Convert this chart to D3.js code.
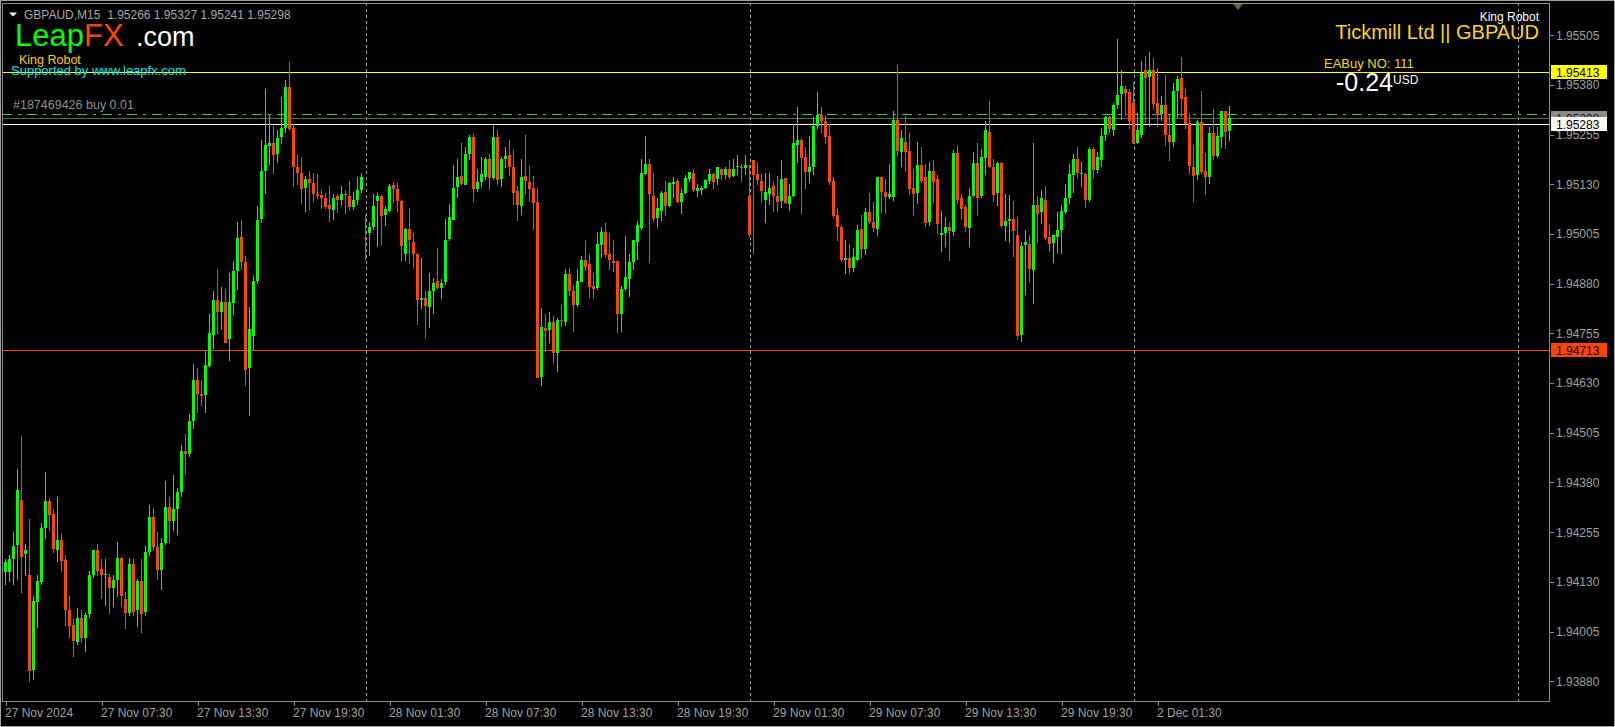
<!DOCTYPE html>
<html><head><meta charset="utf-8">
<script src="https://cdn.jsdelivr.net/npm/d3@7"></script>
<style>html,body{margin:0;padding:0;background:#000;overflow:hidden}</style>
</head><body>
<svg id="c" width="1615" height="727"></svg>
<script>
const symbol = "GBPAUD", period = "M15";
const opens = [
1.94155,1.94155,1.94188,1.94221,1.94337,1.94198,1.94148,1.93909,1.94078,1.94131,
1.94266,1.94334,1.94300,1.94211,1.94235,1.94185,1.94058,1.94021,1.93979,1.94040,
1.93990,1.94047,1.94146,1.94209,1.94162,1.94146,1.94141,1.94115,1.94134,1.94190,
1.94087,1.94052,1.94175,1.94058,1.94131,1.94052,1.94204,1.94292,1.94217,1.94159,
1.94228,1.94318,1.94282,1.94313,1.94355,1.94459,1.94451,1.94534,1.94637,1.94602,
1.94600,1.94675,1.94751,1.94840,1.94809,1.94835,1.94743,1.94833,1.94913,1.94998,
1.94936,1.94668,1.94749,1.94887,1.95041,1.95163,1.95228,1.95235,1.95208,1.95248,
1.95271,1.95374,1.95273,1.95175,1.95160,1.95120,1.95143,1.95134,1.95106,1.95104,
1.95096,1.95077,1.95067,1.95100,1.95089,1.95105,1.95100,1.95073,1.95091,1.95116,
1.94995,1.95009,1.95021,1.95089,1.95102,1.95052,1.95064,1.95129,1.95119,1.95089,
1.94955,1.95017,1.94986,1.94954,1.94838,1.94843,1.94823,1.94863,1.94886,1.94869,
1.94886,1.94991,1.95042,1.95122,1.95150,1.95130,1.95206,1.95250,1.95120,1.95135,
1.95150,1.95195,1.95146,1.95250,1.95145,1.95193,1.95203,1.95175,1.95114,1.95076,
1.95150,1.95137,1.95122,1.95087,1.94647,1.94770,1.94762,1.94783,1.94704,1.94788,
1.94783,1.94904,1.94863,1.94827,1.94886,1.94941,1.94929,1.94875,1.94868,1.94979,
1.95011,1.94954,1.94938,1.94938,1.94804,1.94868,1.94894,1.94936,1.94984,1.95022,
1.95157,1.95181,1.95102,1.95044,1.95064,1.95112,1.95077,1.95133,1.95139,1.95087,
1.95108,1.95144,1.95160,1.95114,1.95118,1.95120,1.95140,1.95157,1.95143,1.95170,
1.95155,1.95170,1.95152,1.95174,1.95175,1.95173,1.95100,1.95191,1.95156,1.95139,
1.95092,1.95108,1.95125,1.95102,1.95087,1.95145,1.95083,1.95102,1.95231,1.95243,
1.95200,1.95162,1.95175,1.95276,1.95304,1.95289,1.95253,1.95139,1.95054,1.95023,
1.94941,1.94946,1.94920,1.94941,1.95018,1.94968,1.95061,1.95036,1.95016,1.95148,
1.95112,1.95100,1.95100,1.95291,1.95212,1.95237,1.95215,1.95122,1.95109,1.95180,
1.95148,1.95036,1.95164,1.95143,1.95005,1.95009,1.95024,1.95011,1.95210,1.95097,
1.95072,1.95022,1.95102,1.95185,1.95100,1.95196,1.95262,1.95175,1.95109,1.95185,
1.95027,1.95039,1.95043,1.95002,1.94751,1.94976,1.94981,1.94916,1.95079,1.95059,
1.95092,1.94998,1.94981,1.94999,1.95015,1.95062,1.95096,1.95153,1.95193,1.95158,
1.95157,1.95091,1.95219,1.95165,1.95193,1.95253,1.95299,1.95268,1.95330,1.95356,
1.95371,1.95362,1.95336,1.95233,1.95254,1.95419,1.95401,1.95419,1.95336,1.95309,
1.95330,1.95254,1.95237,1.95365,1.95399,1.95350,1.95285,1.95175,1.95153,1.95286,
1.95164,1.95149,1.95260,1.95203,1.95249,1.95314,1.95266];
const highs = [
1.94188,1.94198,1.94256,1.94415,1.94498,1.94225,1.94287,1.94094,1.94146,1.94277,
1.94407,1.94341,1.94313,1.94344,1.94251,1.94198,1.94094,1.94037,1.94063,1.94058,
1.94052,1.94157,1.94211,1.94225,1.94188,1.94188,1.94151,1.94146,1.94230,1.94193,
1.94105,1.94190,1.94188,1.94138,1.94188,1.94221,1.94324,1.94315,1.94256,1.94240,
1.94383,1.94344,1.94399,1.94365,1.94475,1.94501,1.94553,1.94678,1.94668,1.94637,
1.94710,1.94803,1.94861,1.94918,1.94873,1.94868,1.94906,1.94937,1.95036,1.95041,
1.94950,1.94822,1.94899,1.95075,1.95242,1.95371,1.95304,1.95276,1.95268,1.95351,
1.95394,1.95437,1.95283,1.95205,1.95198,1.95150,1.95164,1.95160,1.95157,1.95116,
1.95109,1.95127,1.95106,1.95106,1.95125,1.95116,1.95139,1.95112,1.95148,1.95160,
1.95054,1.95035,1.95106,1.95108,1.95104,1.95075,1.95132,1.95137,1.95134,1.95090,
1.95020,1.95070,1.95007,1.94954,1.94946,1.94863,1.94908,1.94895,1.94971,1.94892,
1.95044,1.95082,1.95180,1.95193,1.95233,1.95223,1.95255,1.95257,1.95168,1.95198,
1.95200,1.95207,1.95280,1.95266,1.95200,1.95223,1.95243,1.95218,1.95125,1.95195,
1.95255,1.95176,1.95150,1.95120,1.94818,1.94803,1.94810,1.94800,1.94793,1.94827,
1.94916,1.94920,1.94877,1.94916,1.94950,1.94989,1.94954,1.94908,1.95010,1.95023,
1.95032,1.95009,1.94991,1.94938,1.94874,1.94999,1.94956,1.94991,1.95039,1.95193,
1.95253,1.95195,1.95160,1.95095,1.95114,1.95139,1.95136,1.95148,1.95143,1.95122,
1.95153,1.95162,1.95169,1.95132,1.95127,1.95143,1.95168,1.95160,1.95173,1.95170,
1.95173,1.95191,1.95195,1.95203,1.95181,1.95205,1.95179,1.95191,1.95187,1.95157,
1.95160,1.95160,1.95137,1.95150,1.95191,1.95145,1.95130,1.95283,1.95326,1.95248,
1.95225,1.95253,1.95299,1.95362,1.95326,1.95303,1.95283,1.95148,1.95070,1.95029,
1.94991,1.94979,1.94970,1.95029,1.95054,1.95070,1.95109,1.95087,1.95148,1.95148,
1.95143,1.95182,1.95315,1.95431,1.95268,1.95303,1.95260,1.95170,1.95237,1.95223,
1.95182,1.95187,1.95191,1.95153,1.95064,1.95049,1.95032,1.95216,1.95230,1.95107,
1.95079,1.95122,1.95212,1.95233,1.95219,1.95289,1.95341,1.95193,1.95187,1.95187,
1.95106,1.95104,1.95089,1.95049,1.94984,1.95015,1.95002,1.95235,1.95100,1.95117,
1.95125,1.95028,1.95004,1.95061,1.95079,1.95132,1.95181,1.95207,1.95225,1.95187,
1.95160,1.95223,1.95223,1.95212,1.95271,1.95303,1.95303,1.95336,1.95497,1.95419,
1.95378,1.95369,1.95389,1.95309,1.95440,1.95454,1.95464,1.95449,1.95424,1.95353,
1.95406,1.95304,1.95384,1.95404,1.95451,1.95369,1.95309,1.95228,1.95293,1.95366,
1.95210,1.95275,1.95319,1.95275,1.95316,1.95316,1.95327];
const lows = [
1.94125,1.94131,1.94125,1.94136,1.94105,1.94146,1.93880,1.93885,1.94016,1.94125,
1.94240,1.94261,1.94204,1.94183,1.94157,1.94021,1.93990,1.93943,1.93974,1.93979,
1.93956,1.94042,1.94141,1.94146,1.94089,1.94071,1.94052,1.94068,1.94094,1.94068,
1.94013,1.94047,1.94047,1.94019,1.94005,1.94047,1.94198,1.94209,1.94138,1.94113,
1.94225,1.94230,1.94261,1.94251,1.94347,1.94402,1.94447,1.94517,1.94558,1.94574,
1.94558,1.94673,1.94718,1.94757,1.94765,1.94733,1.94687,1.94803,1.94868,1.94918,
1.94626,1.94551,1.94715,1.94882,1.95035,1.95109,1.95182,1.95158,1.95186,1.95233,
1.95262,1.95266,1.95125,1.95131,1.95083,1.95062,1.95067,1.95089,1.95095,1.95071,
1.95070,1.95037,1.95044,1.95061,1.95078,1.95058,1.95066,1.95067,1.95082,1.95110,
1.94942,1.94952,1.95017,1.94976,1.94981,1.95028,1.95064,1.95085,1.95062,1.94937,
1.94939,1.94933,1.94921,1.94780,1.94819,1.94746,1.94771,1.94806,1.94869,1.94844,
1.94879,1.94991,1.95042,1.95098,1.95131,1.95130,1.95193,1.95088,1.95114,1.95125,
1.95143,1.95119,1.95143,1.95132,1.95125,1.95174,1.95153,1.95082,1.95040,1.95055,
1.95108,1.95088,1.95017,1.94645,1.94626,1.94712,1.94733,1.94684,1.94661,1.94774,
1.94777,1.94853,1.94762,1.94823,1.94886,1.94914,1.94846,1.94844,1.94868,1.94947,
1.94950,1.94918,1.94912,1.94758,1.94760,1.94865,1.94850,1.94916,1.94943,1.95019,
1.95156,1.94934,1.95039,1.95022,1.95041,1.95052,1.95076,1.95098,1.95087,1.95057,
1.95108,1.95139,1.95113,1.95102,1.95107,1.95120,1.95134,1.95120,1.95132,1.95143,
1.95146,1.95145,1.95151,1.95155,1.95138,1.95155,1.94999,1.94958,1.95132,1.95087,
1.95035,1.95082,1.95064,1.95064,1.95072,1.95083,1.95066,1.95100,1.95187,1.95058,
1.95122,1.95137,1.95156,1.95272,1.95262,1.95233,1.95130,1.95049,1.94989,1.94937,
1.94908,1.94908,1.94912,1.94941,1.94946,1.94954,1.95032,1.95012,1.95002,1.95061,
1.95057,1.95096,1.95090,1.95204,1.95176,1.95164,1.95106,1.95054,1.95084,1.95137,
1.95025,1.95027,1.95085,1.95009,1.94963,1.94975,1.94941,1.95004,1.95083,1.95044,
1.95014,1.94974,1.95101,1.95052,1.95098,1.95155,1.95173,1.95089,1.95079,1.95022,
1.94991,1.94984,1.94950,1.94741,1.94736,1.94854,1.94887,1.94832,1.94984,1.95033,
1.94993,1.94963,1.94934,1.94961,1.94957,1.95057,1.95083,1.95111,1.95148,1.95125,
1.95072,1.95089,1.95149,1.95162,1.95177,1.95241,1.95260,1.95255,1.95323,1.95294,
1.95304,1.95271,1.95235,1.95233,1.95250,1.95286,1.95276,1.95320,1.95276,1.95292,
1.95229,1.95192,1.95226,1.95299,1.95302,1.95273,1.95160,1.95088,1.95144,1.95158,
1.95106,1.95134,1.95195,1.95198,1.95223,1.95221,1.95241];
const closes = [
1.94180,1.94188,1.94221,1.94360,1.94193,1.94209,1.93906,1.94082,1.94131,1.94266,
1.94334,1.94298,1.94211,1.94235,1.94183,1.94058,1.94018,1.93981,1.94040,1.93990,
1.94047,1.94146,1.94209,1.94157,1.94146,1.94149,1.94113,1.94134,1.94190,1.94094,
1.94052,1.94175,1.94055,1.94131,1.94047,1.94204,1.94292,1.94217,1.94159,1.94228,
1.94318,1.94282,1.94313,1.94355,1.94459,1.94451,1.94534,1.94637,1.94602,1.94598,
1.94675,1.94757,1.94840,1.94809,1.94835,1.94733,1.94835,1.94913,1.94996,1.94936,
1.94665,1.94767,1.94887,1.95041,1.95163,1.95228,1.95235,1.95205,1.95248,1.95271,
1.95374,1.95268,1.95176,1.95160,1.95120,1.95143,1.95132,1.95106,1.95101,1.95096,
1.95073,1.95067,1.95096,1.95089,1.95105,1.95103,1.95073,1.95091,1.95116,1.95148,
1.94993,1.95023,1.95075,1.95102,1.95052,1.95067,1.95127,1.95119,1.95088,1.94976,
1.95017,1.94989,1.94955,1.94839,1.94843,1.94823,1.94863,1.94882,1.94869,1.94882,
1.94991,1.95047,1.95122,1.95148,1.95131,1.95207,1.95250,1.95120,1.95137,1.95155,
1.95195,1.95146,1.95250,1.95143,1.95195,1.95201,1.95174,1.95110,1.95078,1.95148,
1.95137,1.95119,1.95085,1.94645,1.94772,1.94762,1.94783,1.94704,1.94788,1.94786,
1.94904,1.94861,1.94827,1.94887,1.94941,1.94923,1.94870,1.94868,1.94979,1.95011,
1.94954,1.94939,1.94934,1.94805,1.94868,1.94898,1.94936,1.94991,1.95027,1.95160,
1.95182,1.95105,1.95044,1.95070,1.95109,1.95077,1.95134,1.95137,1.95087,1.95109,
1.95145,1.95162,1.95116,1.95121,1.95122,1.95141,1.95157,1.95137,1.95173,1.95155,
1.95170,1.95150,1.95170,1.95177,1.95172,1.95180,1.95002,1.95154,1.95140,1.95113,
1.95112,1.95122,1.95100,1.95087,1.95143,1.95083,1.95102,1.95235,1.95243,1.95198,
1.95162,1.95175,1.95278,1.95304,1.95289,1.95248,1.95137,1.95052,1.95023,1.94941,
1.94946,1.94920,1.94948,1.95016,1.94967,1.95061,1.95036,1.95022,1.95148,1.95109,
1.95100,1.95107,1.95293,1.95212,1.95246,1.95212,1.95120,1.95108,1.95180,1.95139,
1.95033,1.95164,1.95137,1.95029,1.95009,1.95024,1.95014,1.95210,1.95091,1.95070,
1.95022,1.95102,1.95185,1.95097,1.95198,1.95266,1.95173,1.95105,1.95185,1.95027,
1.95039,1.95043,1.95014,1.94749,1.94976,1.94984,1.94918,1.95079,1.95057,1.95095,
1.94996,1.94981,1.95002,1.95016,1.95064,1.95097,1.95157,1.95193,1.95157,1.95160,
1.95092,1.95220,1.95165,1.95198,1.95253,1.95299,1.95268,1.95330,1.95356,1.95377,
1.95360,1.95289,1.95235,1.95266,1.95411,1.95398,1.95419,1.95334,1.95306,1.95331,
1.95254,1.95236,1.95366,1.95396,1.95345,1.95281,1.95177,1.95153,1.95286,1.95160,
1.95150,1.95260,1.95203,1.95253,1.95314,1.95262,1.95298];

const yTicks = [1.93880,1.94005,1.94130,1.94255,1.94380,1.94505,1.94630,1.94755,1.94880,1.95005,1.95130,1.95255,1.95380,1.95505];
const xTickIdx = [0,24,48,72,96,120,144,168,192,216,240,264,288];
const xTickLabels = ["27 Nov 2024","27 Nov 07:30","27 Nov 13:30","27 Nov 19:30","28 Nov 01:30","28 Nov 07:30","28 Nov 13:30","28 Nov 19:30","29 Nov 01:30","29 Nov 07:30","29 Nov 13:30","29 Nov 19:30","2 Dec 01:30"];
const daySepIdx = [90,186,282,378];
const tpPrice = 1.95413, slPrice = 1.94713, orderPrice = 1.95308, bidPrice = 1.95298, markPrice = 1.95283;
const orderText = "#187469426 buy 0.01";
const broker = "Tickmill Ltd || GBPAUD";
const eaText = "EABuy NO: 111";
const profit = "-0.24";

const svg = d3.select("#c");
const FONT = "'Liberation Sans', Arial, sans-serif";
const P = {l:2, t:3, r:1549, b:701};
const x = d3.scaleLinear().domain([0, 386]).range([5.5, 5.5 + 386*4]);
const y = d3.scaleLinear().domain([1.93880, 1.95505]).range([681.2, 35.4]);
const cy = v => Math.round(y(v)) + 0.5;

svg.append("rect").attr("width",1615).attr("height",727).attr("fill","#000");
svg.append("defs").append("clipPath").attr("id","pc").append("rect")
  .attr("x",P.l+1).attr("y",P.t+1).attr("width",P.r-P.l-1).attr("height",P.b-P.t-1);

// day separators
svg.append("g").selectAll("line").data(daySepIdx).join("line")
  .attr("x1",d=>Math.round(x(d))+0.5).attr("x2",d=>Math.round(x(d))+0.5)
  .attr("y1",P.t).attr("y2",P.b).attr("stroke","#9a9a9a").attr("stroke-dasharray","3,3")
  .attr("shape-rendering","crispEdges");

// horizontal levels
const lv = svg.append("g").attr("clip-path","url(#pc)").attr("shape-rendering","crispEdges");
lv.append("line").attr("x1",P.l).attr("x2",P.r).attr("y1",cy(tpPrice)).attr("y2",cy(tpPrice)).attr("stroke","#ffff00");
lv.append("line").attr("x1",P.l).attr("x2",P.r).attr("y1",cy(slPrice)).attr("y2",cy(slPrice)).attr("stroke","#ff4500");
lv.append("line").attr("x1",P.l).attr("x2",P.r).attr("y1",cy(orderPrice)).attr("y2",cy(orderPrice)).attr("stroke","#32cd32").attr("stroke-dasharray","10,6,3,6");
lv.append("line").attr("x1",P.l).attr("x2",P.r).attr("y1",cy(bidPrice)).attr("y2",cy(bidPrice)).attr("stroke","#556b2f");
lv.append("line").attr("x1",P.l).attr("x2",P.r).attr("y1",cy(markPrice)).attr("y2",cy(markPrice)).attr("stroke","#fff8f0");

// candles
const idx = d3.range(opens.length);
const cg = svg.append("g").attr("clip-path","url(#pc)").attr("shape-rendering","crispEdges");
const col = i => closes[i] >= opens[i] ? "#00ff00" : "#ff4500";
cg.selectAll("line").data(idx).join("line")
  .attr("x1",i=>x(i)).attr("x2",i=>x(i))
  .attr("y1",i=>Math.round(y(highs[i]))).attr("y2",i=>Math.round(y(lows[i]))+1)
  .attr("stroke",col);
cg.selectAll("rect").data(idx).join("rect")
  .attr("x",i=>x(i)-1.5).attr("width",3)
  .attr("y",i=>Math.round(Math.min(y(opens[i]),y(closes[i]))))
  .attr("height",i=>Math.max(1,Math.round(Math.abs(y(opens[i])-y(closes[i])))))
  .attr("fill",col);

// frame
svg.append("rect").attr("x",P.l+0.5).attr("y",P.t+0.5).attr("width",P.r-P.l).attr("height",P.b-P.t)
  .attr("fill","none").attr("stroke","#8a8a8a").attr("shape-rendering","crispEdges");

// y axis
const ya = svg.append("g").attr("transform",`translate(${P.r+0.5},0)`)
  .call(d3.axisRight(y).tickValues(yTicks).tickSize(4).tickPadding(2.5).tickFormat(d3.format(".5f")));
ya.select(".domain").remove();
ya.selectAll("line").attr("stroke","#8a8a8a").attr("shape-rendering","crispEdges");
ya.selectAll("text").attr("fill","#a0a0a0").style("font-family",FONT).style("font-size","12px");

// x axis
const xa = svg.append("g").attr("transform",`translate(0,${P.b+0.5})`)
  .call(d3.axisBottom(x).tickValues(xTickIdx).tickSize(4).tickPadding(3).tickFormat((d,i)=>xTickLabels[i]));
xa.select(".domain").remove();
xa.selectAll("line").attr("stroke","#8a8a8a").attr("shape-rendering","crispEdges");
xa.selectAll("text").attr("fill","#a0a0a0").attr("text-anchor","start").attr("x",-1)
  .style("font-family",FONT).style("font-size","12px");

// price labels on axis
function plabel(p, bg, fg){
  const yy = Math.round(y(p));
  svg.append("rect").attr("x",P.r+2).attr("y",yy-7).attr("width",56).attr("height",14).attr("fill",bg);
  svg.append("text").attr("x",1556).attr("y",yy+0.5).attr("dominant-baseline","central")
    .attr("fill",fg).style("font-family",FONT).style("font-size","12px").text(p.toFixed(5));
}
plabel(tpPrice,"#ffff00","#000");
plabel(slPrice,"#ff4500","#000");
plabel(bidPrice,"#8c8c8c","#202020");
plabel(markPrice,"#fff8f0","#000");

// title
svg.append("polygon").attr("points","9,12.5 17,12.5 13,16.5").attr("fill","#fff");
const last = opens.length-1;
svg.append("text").attr("x",24).attr("y",19).attr("fill","#a8a8a8").style("font-family",FONT).style("font-size","12px")
  .attr("xml:space","preserve")
  .text(`${symbol},${period}  ${opens[last].toFixed(5)} ${highs[last].toFixed(5)} ${lows[last].toFixed(5)} ${closes[last].toFixed(5)}`);

// chart shift marker
svg.append("polygon").attr("points","1233,4 1243,4 1238,10").attr("fill","#5a6b3a");

// logo
const logo = svg.append("text").attr("x",15).attr("y",45.5).style("font-family",FONT).style("font-size","31px");
logo.append("tspan").attr("fill","#00ff00").text("Leap");
logo.append("tspan").attr("fill","#ff4500").text("FX");
svg.append("text").attr("x",136).attr("y",45.5).attr("fill","#fff").style("font-family",FONT).style("font-size","27px").text(".com");
svg.append("text").attr("x",19).attr("y",64).attr("fill","#ffcc00").style("font-family",FONT).style("font-size","12.5px").text("King Robot");
svg.append("text").attr("x",11).attr("y",75).attr("fill","#00e5ee").style("font-family",FONT).style("font-size","13px").text("Supported by www.leapfx.com");
svg.append("text").attr("x",13).attr("y",109).attr("fill","#909090").style("font-family",FONT).style("font-size","12.5px").text(orderText);

// right info block
svg.append("text").attr("x",1539).attr("y",20.5).attr("text-anchor","end").attr("fill","#fff").style("font-family",FONT).style("font-size","12px").text("King Robot");
svg.append("text").attr("x",1539).attr("y",38.5).attr("text-anchor","end").attr("fill","#ffd700").style("font-family",FONT).style("font-size","20px").text(broker);
svg.append("text").attr("x",1324).attr("y",67.5).attr("fill","#eedd00").style("font-family",FONT).style("font-size","13px").text(eaText);
svg.append("text").attr("x",1336).attr("y",90.5).attr("fill","#fff").style("font-family",FONT).style("font-size","25px").text(profit);
svg.append("text").attr("x",1393).attr("y",84).attr("fill","#fff").style("font-family",FONT).style("font-size","12px").text("USD");

// window border
svg.append("rect").attr("x",0.5).attr("y",0.5).attr("width",1614).attr("height",726).attr("fill","none").attr("stroke","#a0a0a0").attr("shape-rendering","crispEdges");
</script>
</body></html>
